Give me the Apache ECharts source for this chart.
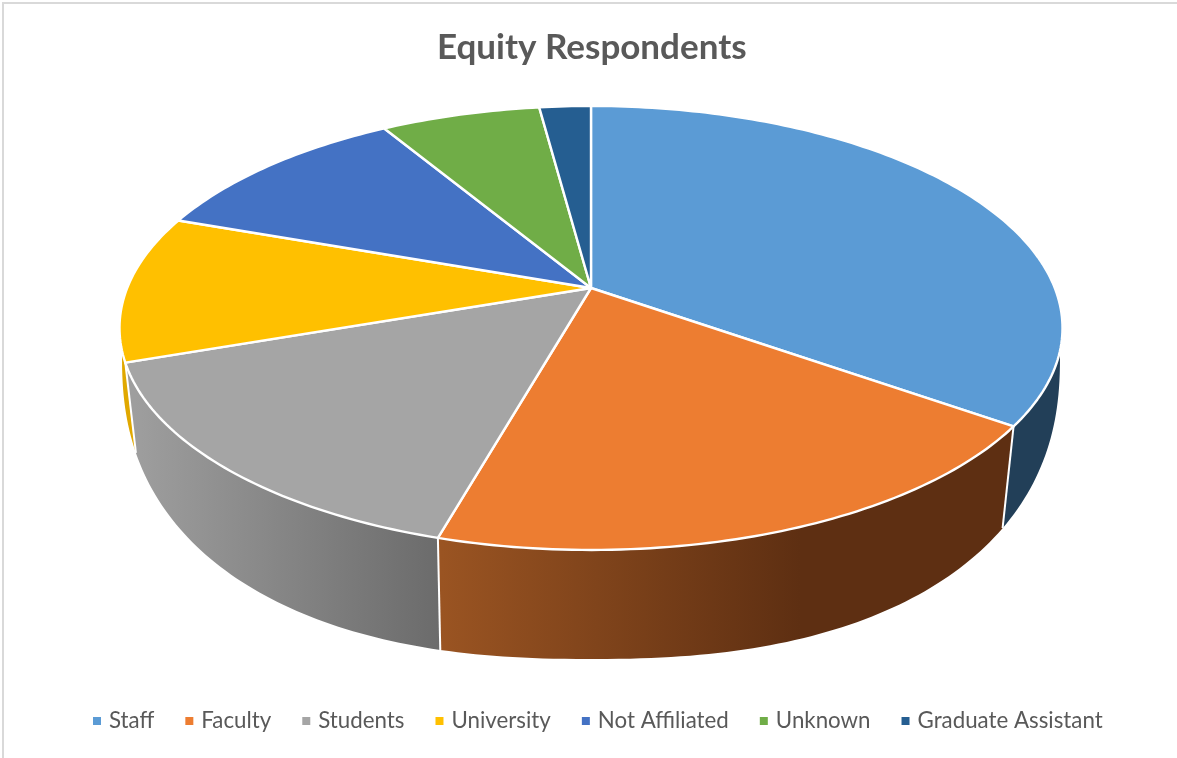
<!DOCTYPE html>
<html>
<head>
<meta charset="utf-8">
<style>html,body{margin:0;padding:0;background:#fff}#c{width:1177px;height:758px}</style>
<script src="https://cdn.jsdelivr.net/npm/echarts@6/dist/echarts.min.js"></script>
</head>
<body>
<div id="c"></div>
<script>
const categories = ['Staff','Faculty','Students','University','Not Affiliated','Unknown','Graduate Assistant'];
const shares = [34.8,19.6,15.3,10.7,11.0,6.5,2.1];
const colors = ['#5B9BD5','#ED7D31','#A5A5A5','#FFC000','#4472C4','#70AD47','#255E91'];
const wallColors = [['#223F58','#223F58'],['#9A5422','#5E2F12'],['#9E9E9E','#6B6B6B'],['#E0A800','#E0A800'],null,null,null];
const wallSpans = [[1005,1062],[441,800],[135,441],[120,136],null,null,null];

const total = shares.reduce((a,b)=>a+b,0);
const D2R = Math.PI/180;
// perspective projection of the pie's top disc
const APEX_X=591, APEX_Y=288, A=463.8, B=214.8, K=0.18;
function topPoint(deg){
  const u=Math.sin(deg*D2R), v=-Math.cos(deg*D2R), w=1-K*v;
  return [APEX_X+A*u/w, APEX_Y+B*v/w];
}
// lower rim of the pie's wall
function bottomPoint(deg){
  const u=Math.sin(deg*D2R), v=Math.max(0,-Math.cos(deg*D2R));
  const phi=Math.asin(v);
  const c=Math.cos(phi), s=Math.sin(phi);
  const warp=(u>0?7:4.5)*c*c-1*s*s;
  const p=Math.max(0,phi-warp*D2R);
  const e=0.85;
  return [APEX_X+Math.sign(u)*469*Math.pow(Math.cos(p),e), 356+303*Math.pow(Math.sin(p),e)];
}
function arc(fn,a,b){
  const n=Math.max(2,Math.ceil(Math.abs(b-a)));
  const out=[];
  for(let i=0;i<=n;i++) out.push(fn(a+(b-a)*i/n));
  return out;
}
function makeRender(idx){
  return function(params,api){
    let start=0;
    for(let i=0;i<idx;i++) start+=shares[i]/total*360;
    const end=start+api.value(0)/total*360;
    const toPx=p=>api.coord(p);
    const children=[];
    const wa=Math.max(start,90), wb=Math.min(end,270);
    if(wb>wa && wallColors[idx]){
      const pts=arc(topPoint,wa,wb).concat(arc(bottomPoint,wb,wa)).map(toPx);
      const span=wallSpans[idx];
      children.push({type:'polygon',z2:1,shape:{points:pts},style:{
        fill:{type:'linear',global:true,x:toPx([span[0],0])[0],y:0,x2:toPx([span[1],0])[0],y2:0,
          colorStops:[{offset:0,color:wallColors[idx][0]},{offset:1,color:wallColors[idx][1]}]},
        stroke:null}});
      if(wb===end){
        children.push({type:'line',z2:5,shape:{
          x1:toPx(topPoint(end))[0],y1:toPx(topPoint(end))[1],
          x2:toPx(bottomPoint(end))[0],y2:toPx(bottomPoint(end))[1]},
          style:{stroke:'#fff',lineWidth:2}});
      }
    }
    const face=[[APEX_X,APEX_Y]].concat(arc(topPoint,start,end)).map(toPx);
    children.push({type:'polygon',z2:10,shape:{points:face},style:{fill:colors[idx],stroke:'#fff',lineWidth:2.4,lineJoin:'round'}});
    return {type:'group',children};
  };
}
const chart=echarts.init(document.getElementById('c'),null,{renderer:'canvas'});
chart.setOption({
  animation:false,
  backgroundColor:'#fff',
  title:{text:'Equity Respondents',left:432,top:25,
    textStyle:{fontFamily:'Lato',fontWeight:'bold',fontSize:35,color:'#595959'}},
  legend:{left:93,top:710,padding:0,icon:'rect',itemWidth:8,itemHeight:8,itemGap:31,
    data:categories,
    textStyle:{fontFamily:'Lato',fontSize:22.3,color:'#595959',padding:[0,0,3,3]}},
  grid:{left:0,right:0,top:0,bottom:0},
  xAxis:{type:'value',min:0,max:1177,show:false},
  yAxis:{type:'value',min:0,max:758,inverse:true,show:false},
  graphic:[{type:'rect',z:-1,shape:{x:3,y:3,width:1300,height:900},style:{fill:'#fff',stroke:'#D9D9D9',lineWidth:2}}],
  series:categories.map((name,i)=>({
    type:'custom',name,coordinateSystem:'cartesian2d',
    itemStyle:{color:colors[i]},
    renderItem:makeRender(i),
    data:[[shares[i]]],
    encode:{x:-1,y:-1}
  }))
});
</script>
</body>
</html>
